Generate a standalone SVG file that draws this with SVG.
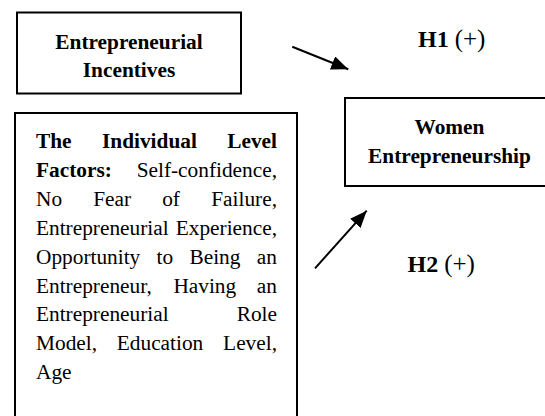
<svg xmlns="http://www.w3.org/2000/svg" width="545" height="416" viewBox="0 0 545 416">
  <style>
    .box { fill: #ffffff; stroke: #000000; stroke-width: 2; }
    .t { font-family: "Liberation Serif", "Times New Roman", serif; font-size: 21.33px; fill: #000000; }
    .b { font-weight: bold; }
    .c { text-anchor: middle; }
    .e { text-anchor: end; }
    .hyp { font-family: "Liberation Serif", "Times New Roman", serif; font-size: 24px; fill: #000000; }
    .sign { font-size: 25px; }
    .conn { stroke: #000000; stroke-width: 2; fill: none; }
  </style>
  <defs>
    <marker id="arrow" markerUnits="userSpaceOnUse" markerWidth="18" markerHeight="14" refX="17" refY="7" orient="auto">
      <path d="M0,0 L17,7 L0,14 Z" fill="#000000"/>
    </marker>
  </defs>
  <rect width="545" height="416" fill="#ffffff"/>

  <g id="entrepreneurial-incentives">
    <rect class="box" x="17" y="12.5" width="224" height="81"/>
    <text class="t b c" x="129" y="48.5">Entrepreneurial</text>
    <text class="t b c" x="129" y="77">Incentives</text>
  </g>

  <g id="individual-level-factors">
    <rect class="box" x="15" y="113" width="282" height="330"/>
    <text class="t b" x="36" y="148">The</text>
    <text class="t b" x="102" y="148">Individual</text>
    <text class="t b e" x="277" y="148">Level</text>

    <text class="t b" x="36" y="177">Factors:</text>
    <text class="t e" x="277" y="177">Self-confidence,</text>

    <text class="t" x="36" y="206">No</text>
    <text class="t" x="93.2" y="206">Fear</text>
    <text class="t" x="162.2" y="206">of</text>
    <text class="t e" x="277" y="206">Failure,</text>

    <text class="t" x="36" y="235">Entrepreneurial</text>
    <text class="t e" x="277" y="235">Experience,</text>

    <text class="t" x="36" y="264">Opportunity</text>
    <text class="t" x="156.6" y="264">to</text>
    <text class="t" x="189.5" y="264">Being</text>
    <text class="t e" x="277" y="264">an</text>

    <text class="t" x="36" y="292.5">Entrepreneur,</text>
    <text class="t" x="173.4" y="292.5">Having</text>
    <text class="t e" x="277" y="292.5">an</text>

    <text class="t" x="36" y="321">Entrepreneurial</text>
    <text class="t e" x="277" y="321">Role</text>

    <text class="t" x="36" y="350">Model,</text>
    <text class="t" x="116.8" y="350">Education</text>
    <text class="t e" x="277" y="350">Level,</text>

    <text class="t" x="36" y="379">Age</text>
  </g>

  <g id="women-entrepreneurship">
    <rect class="box" x="345" y="98" width="230" height="88"/>
    <text class="t b c" x="449.5" y="134">Women</text>
    <text class="t b c" x="449.5" y="163">Entrepreneurship</text>
  </g>

  <g id="connectors">
    <line class="conn" x1="292.3" y1="46.7" x2="348.3" y2="69.3" marker-end="url(#arrow)"/>
    <line class="conn" x1="315" y1="268.3" x2="366.7" y2="210.7" marker-end="url(#arrow)"/>
  </g>

  <g id="hypothesis-labels">
    <text class="hyp" x="418" y="46.5"><tspan font-weight="bold">H1</tspan> <tspan class="sign">(+)</tspan></text>
    <text class="hyp" x="407.5" y="272"><tspan font-weight="bold">H2</tspan> <tspan class="sign">(+)</tspan></text>
  </g>
</svg>
